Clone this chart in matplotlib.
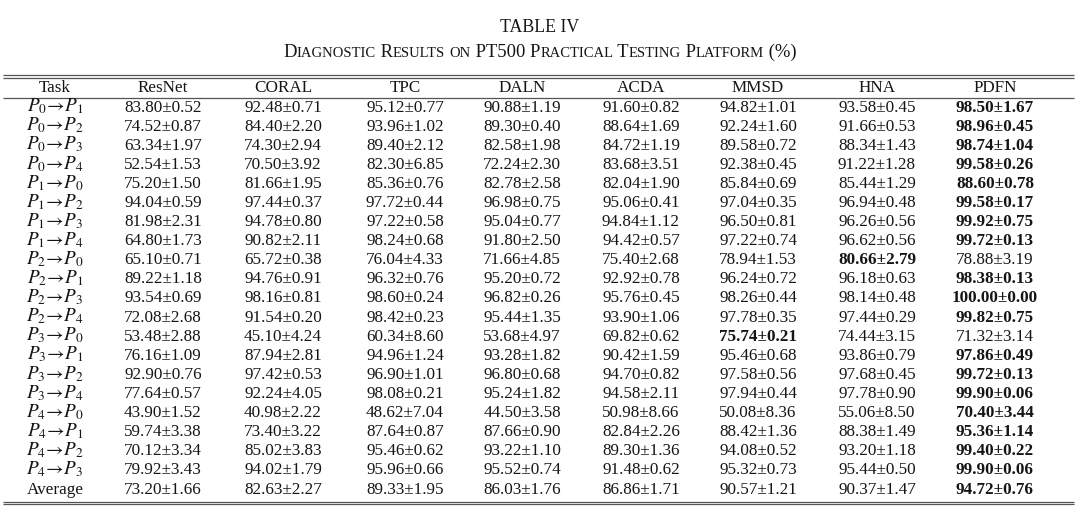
import numpy as np
import matplotlib
matplotlib.use("Agg")
import matplotlib.pyplot as plt

plt.rcParams['font.family'] = ['Liberation Serif', 'DejaVu Serif']
plt.rcParams['mathtext.fontset'] = 'stix'

# table data
methods = ['ResNet', 'CORAL', 'TPC', 'DALN', 'ACDA', 'MMSD', 'HNA', 'PDFN']
tasks = [(0, 1), (0, 2), (0, 3), (0, 4), (1, 0), (1, 2), (1, 3), (1, 4),
         (2, 0), (2, 1), (2, 3), (2, 4), (3, 0), (3, 1), (3, 2), (3, 4),
         (4, 0), (4, 1), (4, 2), (4, 3)]

resnet_mean = [83.80, 74.52, 63.34, 52.54, 75.20, 94.04, 81.98, 64.80, 65.10, 89.22, 93.54,
               72.08, 53.48, 76.16, 92.90, 77.64, 43.90, 59.74, 70.12, 79.92, 73.20]
resnet_std = [0.52, 0.87, 1.97, 1.53, 1.50, 0.59, 2.31, 1.73, 0.71, 1.18, 0.69,
              2.68, 2.88, 1.09, 0.76, 0.57, 1.52, 3.38, 3.34, 3.43, 1.66]
coral_mean = [92.48, 84.40, 74.30, 70.50, 81.66, 97.44, 94.78, 90.82, 65.72, 94.76, 98.16,
              91.54, 45.10, 87.94, 97.42, 92.24, 40.98, 73.40, 85.02, 94.02, 82.63]
coral_std = [0.71, 2.20, 2.94, 3.92, 1.95, 0.37, 0.80, 2.11, 0.38, 0.91, 0.81,
             0.20, 4.24, 2.81, 0.53, 4.05, 2.22, 3.22, 3.83, 1.79, 2.27]
tpc_mean = [95.12, 93.96, 89.40, 82.30, 85.36, 97.72, 97.22, 98.24, 76.04, 96.32, 98.60,
            98.42, 60.34, 94.96, 96.90, 98.08, 48.62, 87.64, 95.46, 95.96, 89.33]
tpc_std = [0.77, 1.02, 2.12, 6.85, 0.76, 0.44, 0.58, 0.68, 4.33, 0.76, 0.24,
           0.23, 8.60, 1.24, 1.01, 0.21, 7.04, 0.87, 0.62, 0.66, 1.95]
daln_mean = [90.88, 89.30, 82.58, 72.24, 82.78, 96.98, 95.04, 91.80, 71.66, 95.20, 96.82,
             95.44, 53.68, 93.28, 96.80, 95.24, 44.50, 87.66, 93.22, 95.52, 86.03]
daln_std = [1.19, 0.40, 1.98, 2.30, 2.58, 0.75, 0.77, 2.50, 4.85, 0.72, 0.26,
            1.35, 4.97, 1.82, 0.68, 1.82, 3.58, 0.90, 1.10, 0.74, 1.76]
acda_mean = [91.60, 88.64, 84.72, 83.68, 82.04, 95.06, 94.84, 94.42, 75.40, 92.92, 95.76,
             93.90, 69.82, 90.42, 94.70, 94.58, 50.98, 82.84, 89.30, 91.48, 86.86]
acda_std = [0.82, 1.69, 1.19, 3.51, 1.90, 0.41, 1.12, 0.57, 2.68, 0.78, 0.45,
            1.06, 0.62, 1.59, 0.82, 2.11, 8.66, 2.26, 1.36, 0.62, 1.71]
mmsd_mean = [94.82, 92.24, 89.58, 92.38, 85.84, 97.04, 96.50, 97.22, 78.94, 96.24, 98.26,
             97.78, 75.74, 95.46, 97.58, 97.94, 50.08, 88.42, 94.08, 95.32, 90.57]
mmsd_std = [1.01, 1.60, 0.72, 0.45, 0.69, 0.35, 0.81, 0.74, 1.53, 0.72, 0.44,
            0.35, 0.21, 0.68, 0.56, 0.44, 8.36, 1.36, 0.52, 0.73, 1.21]
hna_mean = [93.58, 91.66, 88.34, 91.22, 85.44, 96.94, 96.26, 96.62, 80.66, 96.18, 98.14,
            97.44, 74.44, 93.86, 97.68, 97.78, 55.06, 88.38, 93.20, 95.44, 90.37]
hna_std = [0.45, 0.53, 1.43, 1.28, 1.29, 0.48, 0.56, 0.56, 2.79, 0.63, 0.48,
           0.29, 3.15, 0.79, 0.45, 0.90, 8.50, 1.49, 1.18, 0.50, 1.47]
pdfn_mean = [98.50, 98.96, 98.74, 99.58, 88.60, 99.58, 99.92, 99.72, 78.88, 98.38, 100.00,
             99.82, 71.32, 97.86, 99.72, 99.90, 70.40, 95.36, 99.40, 99.90, 94.72]
pdfn_std = [1.67, 0.45, 1.04, 0.26, 0.78, 0.17, 0.75, 0.13, 3.19, 0.13, 0.00,
            0.75, 3.14, 0.49, 0.13, 0.06, 3.44, 1.14, 0.22, 0.06, 0.76]

means = np.array([resnet_mean, coral_mean, tpc_mean, daln_mean,
                  acda_mean, mmsd_mean, hna_mean, pdfn_mean])
stds = np.array([resnet_std, coral_std, tpc_std, daln_std,
                 acda_std, mmsd_std, hna_std, pdfn_std])
best = means.argmax(axis=0)  # best result per task is bold

row_labels = [r'$P_{%d}\!\rightarrow\!P_{%d}$' % t for t in tasks] + ['Average']

W, H = 1080, 516
fig = plt.figure(figsize=(W / 100, H / 100), dpi=100)
ax = fig.add_axes([0, 0, 1, 1])
ax.set_xlim(0, W)
ax.set_ylim(H, 0)
ax.axis('off')

ink = '#151515'
rule = '#555555'
fs = 12.3

# caption
ax.text(540, 32, 'TABLE IV', ha='center', va='baseline', fontsize=12.8, color=ink)


def small_caps(text, xc, y, big=13.4, small=10.5):
    runs = []
    for ch in text:
        sz = small if ch.islower() else big
        if runs and runs[-1][1] == sz:
            runs[-1][0] += ch.upper()
        else:
            runs.append([ch.upper(), sz])
    r = fig.canvas.get_renderer()
    objs = []
    x = 0
    for s, sz in runs:
        t = ax.text(x, y, s, ha='left', va='baseline', fontsize=sz, color=ink)
        w = t.get_window_extent(renderer=r).width
        objs.append((t, x))
        x += w
    x0 = xc - x / 2
    for t, off in objs:
        t.set_x(x0 + off)


small_caps('Diagnostic Results on PT500 Practical Testing Platform (%)', 540, 57)

# rules
x_l, x_r = 3, 1074
ax.hlines([75, 77.5], x_l, x_r, color=rule, lw=0.9)
ax.hlines([97.5], x_l, x_r, color=rule, lw=0.9)
ax.hlines([501.5, 504], x_l, x_r, color=rule, lw=0.9)

col_x = [55, 163, 283, 405, 522, 641, 758, 877, 995]
ax.text(col_x[0], 92, 'Task', ha='center', va='baseline', fontsize=fs, color=ink)
for j, m in enumerate(methods):
    ax.text(col_x[j + 1], 92, m, ha='center', va='baseline', fontsize=fs, color=ink)

y0, dy = 111.5, 19.1
for i, lab in enumerate(row_labels):
    y = y0 + i * dy
    ax.text(col_x[0], y, lab, ha='center', va='baseline',
            fontsize=fs + (1.5 if i < len(tasks) else 0), color=ink)
    for j in range(len(methods)):
        s = '%.2f±%.2f' % (means[j, i], stds[j, i])
        ax.text(col_x[j + 1], y, s, ha='center', va='baseline', fontsize=fs,
                color=ink, fontweight='bold' if best[i] == j else 'normal')

fig.savefig('out.png', dpi=100)
